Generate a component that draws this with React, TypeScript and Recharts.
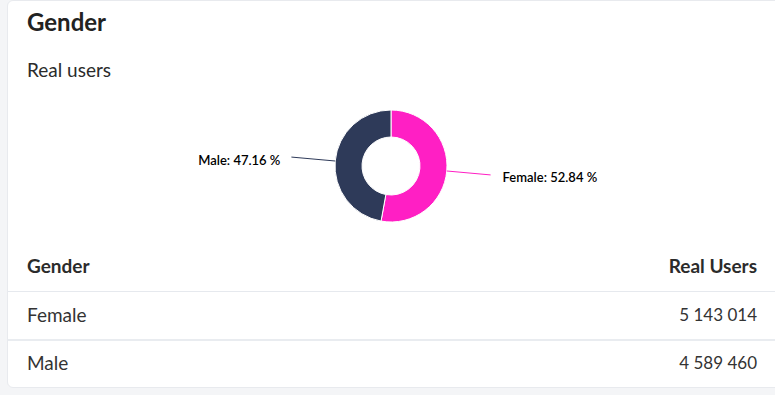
import React from 'react';
import { PieChart, Pie, Cell } from 'recharts';

const genders = ['Female', 'Male'];
const realUsers = [5143014, 4589460];
const sliceColors = ['#FF1FC4', '#2E3A59'];

const RADIAN = Math.PI / 180;
const FONT = 'Lato, "Noto Sans", sans-serif';

const data = genders.map((name, i) => ({ name, value: realUsers[i] }));

const formatNumber = (n: number) => String(n).replace(/\B(?=(\d{3})+(?!\d))/g, ' ');

const renderLabel = (props: any) => {
  const { cx, cy, midAngle, outerRadius, percent, name, index } = props;
  const cos = Math.cos(-midAngle * RADIAN);
  const sin = Math.sin(-midAngle * RADIAN);
  const sx = cx + outerRadius * cos;
  const sy = cy + outerRadius * sin;
  const ex = cx + (outerRadius + 44) * cos;
  const ey = cy + (outerRadius + 44) * sin;
  const right = cos >= 0;
  const color = sliceColors[index];
  return (
    <g>
      <path d={`M${sx},${sy}L${ex},${ey}`} stroke={color} strokeWidth={1} fill="none" />
      <text
        x={ex + (right ? 12 : -11)}
        y={ey + 2.5}
        textAnchor={right ? 'start' : 'end'}
        dominantBaseline="central"
        fill="#000"
        style={{ fontFamily: FONT, fontSize: 13, fontWeight: 600 }}
      >
        {`${name}: ${(percent * 100).toFixed(2)} %`}
      </text>
    </g>
  );
};

const textStyle = (top: number, size: number, weight: number, extra: React.CSSProperties = {}): React.CSSProperties => ({
  position: 'absolute',
  top,
  fontFamily: FONT,
  fontSize: size,
  fontWeight: weight,
  lineHeight: 1.2,
  color: '#2b2b2b',
  whiteSpace: 'nowrap',
  ...extra,
});

const App: React.FC = () => {
  return (
    <div style={{ position: 'fixed', left: 0, top: 0, width: 775, height: 395, background: '#f4f5f7', overflow: 'hidden' }}>
      <div
        style={{
          position: 'absolute',
          left: 7,
          top: 0,
          width: 800,
          height: 388,
          background: '#fff',
          border: '1px solid #e8eaee',
          borderRadius: 6,
          boxSizing: 'border-box',
        }}
      />
      <div style={textStyle(8, 24, 700, { left: 27, color: '#222' })}>Gender</div>
      <div style={textStyle(59, 19, 400, { left: 27 })}>Real users</div>

      <div style={{ position: 'absolute', left: 0, top: 0 }}>
        <PieChart width={775} height={240} margin={{ top: 0, right: 0, bottom: 0, left: 0 }}>
          <Pie
            data={data}
            dataKey="value"
            nameKey="name"
            cx={391}
            cy={166}
            innerRadius={29}
            outerRadius={56}
            startAngle={90}
            endAngle={-270}
            stroke="#fff"
            strokeWidth={1}
            label={renderLabel}
            labelLine={false}
            isAnimationActive={false}
          >
            {data.map((d, i) => (
              <Cell key={d.name} fill={sliceColors[i]} />
            ))}
          </Pie>
        </PieChart>
      </div>

      <div style={textStyle(255, 19, 700, { left: 27 })}>Gender</div>
      <div style={textStyle(255, 19, 700, { right: 18 })}>Real Users</div>
      <div style={{ position: 'absolute', left: 8, right: 0, top: 291, height: 1, background: '#e6e9ee' }} />
      {genders.map((g, i) => (
        <React.Fragment key={g}>
          <div style={textStyle(304 + i * 48, 19, 400, { left: 27, color: '#333' })}>{g}</div>
          <div style={textStyle(305 + i * 48, 17, 400, { right: 18, color: '#333' })}>
            {formatNumber(realUsers[i])}
          </div>
        </React.Fragment>
      ))}
      <div style={{ position: 'absolute', left: 8, right: 0, top: 339, height: 2, background: '#e9ecf0' }} />
    </div>
  );
};

export default App;
